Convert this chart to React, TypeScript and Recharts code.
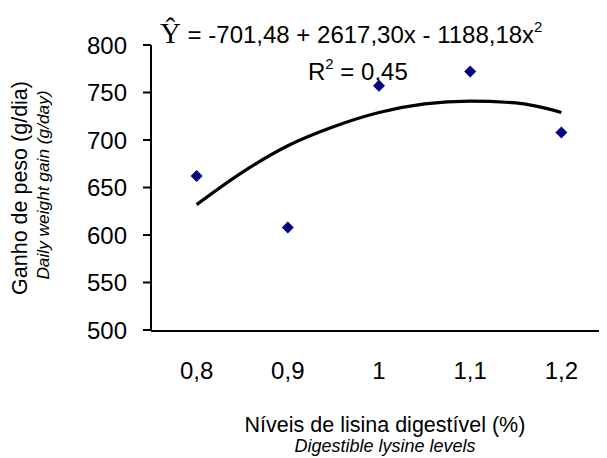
import React from "react";
import { ComposedChart, XAxis, YAxis, Scatter, Line } from "recharts";

// Observed values (points)
const obsX = [0.8, 0.9, 1.0, 1.1, 1.2];
const obsY = [662, 608, 757, 772, 708];

// Fitted curve
const fitX = [0.8, 0.85, 0.9, 0.95, 1.0, 1.05, 1.1, 1.15, 1.2];
const fitY = [632, 666, 694, 714, 729, 738, 741, 739, 729];

// Axis ticks
const xTicks = [0.8, 0.9, 1.0, 1.1, 1.2];
const xTickLabels = ["0,8", "0,9", "1", "1,1", "1,2"];
const xTickMarks = [0.75, 0.85, 0.95, 1.05, 1.15, 1.25];
const yTicks = [500, 550, 600, 650, 700, 750, 800];

const points = obsX.map((x, i) => ({ x, y: obsY[i] }));
const curve = fitX.map((x, i) => ({ x, y: fitY[i] }));

const SANS = "'Liberation Sans', Arial, Helvetica, sans-serif";
const SERIF = "'Liberation Serif', 'Times New Roman', serif";

const Diamond = (props: any) => {
  const { cx, cy } = props;
  if (cx == null || cy == null) return null;
  const r = 6;
  return (
    <path
      d={`M${cx},${cy - r}L${cx + r},${cy}L${cx},${cy + r}L${cx - r},${cy}Z`}
      fill="#000080"
    />
  );
};

export default function App() {
  return (
    <div style={{ width: 599, height: 450, fontFamily: SANS }}>
      <ComposedChart
        width={599}
        height={450}
        margin={{ top: 37, right: 0, bottom: 126, left: 142 }}
        style={{ fontFamily: SANS }}
      >
        <XAxis
          xAxisId="marks"
          type="number"
          dataKey="x"
          domain={[0.75, 1.25]}
          ticks={xTickMarks}
          tick={false}
          tickSize={7}
          height={1}
          axisLine={{ stroke: "#000", strokeWidth: 2 }}
          tickLine={{ stroke: "#000", strokeWidth: 2 }}
          allowDataOverflow
        />
        <XAxis
          xAxisId="main"
          type="number"
          dataKey="x"
          domain={[0.75, 1.25]}
          ticks={xTicks}
          tickFormatter={(v: number) => xTickLabels[xTicks.indexOf(v)] ?? String(v)}
          axisLine={false}
          tickLine={false}
          tickSize={8}
          tickMargin={24}
          height={1}
          interval={0}
          tick={{ fill: "#000", fontSize: 24, fontFamily: SANS }}
          allowDataOverflow
        />
        <YAxis
          type="number"
          dataKey="y"
          domain={[500, 800]}
          ticks={yTicks}
          interval={0}
          width={1}
          tickSize={8}
          tickMargin={16}
          axisLine={{ stroke: "#000", strokeWidth: 2 }}
          tickLine={{ stroke: "#000", strokeWidth: 2 }}
          tick={{ fill: "#000", fontSize: 24, fontFamily: SANS }}
          allowDataOverflow
        />
        <Line
          xAxisId="main"
          data={curve}
          dataKey="y"
          type="monotone"
          stroke="#000"
          strokeWidth={3.2}
          dot={false}
          activeDot={false}
          isAnimationActive={false}
        />
        <Scatter
          xAxisId="main"
          data={points}
          dataKey="y"
          shape={<Diamond />}
          isAnimationActive={false}
        />
        {/* Equation */}
        <text x={152} y={35} fill="#000" style={{ fontFamily: SANS }}>
          <tspan style={{ fontFamily: SERIF }} fontSize={29}>Ŷ</tspan>
          <tspan fontSize={24}> = -701,48 + 2617,30x - 1188,18x</tspan>
          <tspan fontSize={15} dy={-11}>2</tspan>
        </text>
        <text x={300} y={72} fill="#000" style={{ fontFamily: SANS }}>
          <tspan fontSize={24}>R</tspan>
          <tspan fontSize={15} dy={-11}>2</tspan>
          <tspan fontSize={24} dy={11}> = 0,45</tspan>
        </text>
        {/* X axis titles */}
        <text x={377} y={424} textAnchor="middle" fill="#000" fontSize={21.5} style={{ fontFamily: SANS }}>
          Níveis de lisina digestível (%)
        </text>
        <text x={377} y={444} textAnchor="middle" fill="#000" fontSize={18} fontStyle="italic" style={{ fontFamily: SANS }}>
          Digestible lysine levels
        </text>
        {/* Y axis titles */}
        <text x={19} y={180} textAnchor="middle" fill="#000" fontSize={21.5} transform="rotate(-90 19 180)" style={{ fontFamily: SANS }}>
          Ganho de peso (g/dia)
        </text>
        <text x={41} y={177} textAnchor="middle" fill="#000" fontSize={17.3} fontStyle="italic" transform="rotate(-90 41 177)" style={{ fontFamily: SANS }}>
          Daily weight gain (g/day)
        </text>
      </ComposedChart>
    </div>
  );
}
